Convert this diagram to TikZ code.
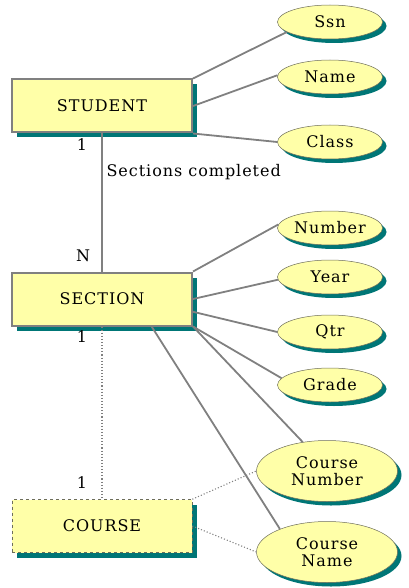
\documentclass[tikz,border=0pt]{standalone}
\usepackage{fontspec}
\setmainfont{DejaVu Serif}[LetterSpace=6]
\usepackage{xcolor}
\usetikzlibrary{shapes.geometric,shadows}
\definecolor{erYellow}{RGB}{255,255,168}
\definecolor{erTeal}{RGB}{0,118,118}
\definecolor{erLine}{RGB}{128,128,128}
\definecolor{erEdge}{RGB}{110,110,90}

\begin{document}
\begin{tikzpicture}[x=1pt,y=-1pt,
    font=\fontsize{16}{16.5}\selectfont,
    entity/.style={rectangle, draw=erLine, line width=2pt, fill=erYellow,
        minimum width=180pt, minimum height=53pt, inner sep=0pt,
        drop shadow={shadow xshift=5pt, shadow yshift=-5pt, fill=erTeal, opacity=1}},
    weakentity/.style={entity, draw=erEdge, line width=0.6pt, dashed},
    attr/.style={ellipse, draw=erEdge, line width=0.5pt, fill=erYellow,
        minimum width=105pt, minimum height=34pt, inner sep=0pt,
        drop shadow={shadow xshift=4pt, shadow yshift=-4pt, fill=erTeal, opacity=1}},
    bigattr/.style={attr, minimum width=141pt, minimum height=61pt, align=center},
    link/.style={draw=erLine, line width=1.8pt},
    weaklink/.style={draw=erLine, line width=1.1pt, dotted}]
    \useasboundingbox (0,0) rectangle (408,588);

    % Entities
    \node[entity] (student) at (102,106) {STUDENT};
    \node[entity] (section) at (102,299) {SECTION};
    \node[weakentity] (course) at (102,526) {COURSE};

    % Student attributes
    \node[attr] (ssn) at (330,22) {Ssn};
    \node[attr] (name) at (330,77) {Name};
    \node[attr] (class) at (330,142) {Class};

    % Section attributes
    \node[attr] (number) at (330,228) {Number};
    \node[attr] (year) at (330,277) {Year};
    \node[attr] (qtr) at (330,332) {Qtr};
    \node[attr] (grade) at (330,385) {Grade};

    % Course attributes
    \node[bigattr] (cnumber) at (327,471) {Course\\Number};
    \node[bigattr] (cname) at (327,552) {Course\\Name};

    % Attribute links
    \draw[link] (student.north east) -- (ssn.193);
    \draw[link] (student.east) -- (name.178);
    \draw[link] (student.south east) -- (class.west);
    \draw[link] (section.north east) -- (number.176);
    \draw[link] (section.east) -- (year.183);
    \draw[link] (section.-8) -- (qtr.west);
    \draw[link] (section.south east) -- (grade.172);
    \draw[link] (section.south east) -- (cnumber.130);
    \draw[link] (section.-29.5) -- (cname.154);
    \draw[weaklink] (course.north east) -- (cnumber.west);
    \draw[weaklink] (course.east) -- (cname.west);

    % Relationship links and cardinalities
    \draw[link] (student.south) -- (section.north);
    \draw[weaklink] (section.south) -- (course.north);
    \node[anchor=west] (relname) at (103,172) {Sections completed};
    \node (card1) at (82,145) {1};
    \node (cardN) at (83,256) {N};
    \node (card2) at (82,337) {1};
    \node (card3) at (82,483) {1};
\end{tikzpicture}
\end{document}
